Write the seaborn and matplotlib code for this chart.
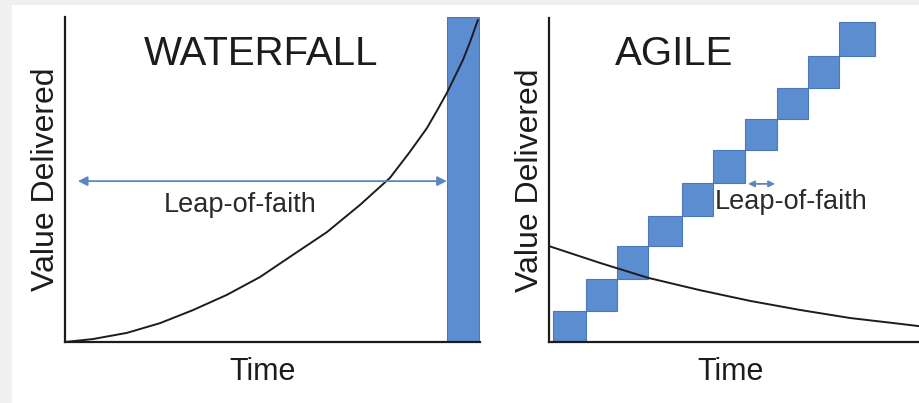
import seaborn as sns
import matplotlib.pyplot as plt
from matplotlib.patches import Rectangle

# waterfall: value delivered over time (arbitrary 0-100 units)
waterfall_time = [0, 6.7, 14.9, 22.9, 30.8, 39.0, 47.0, 54.9, 63.1, 71.1, 78.3, 83.1, 87.2, 89.6, 92.0, 95.9, 97.6, 99.5]
waterfall_value = [0, 0.9, 2.8, 5.8, 9.8, 14.5, 20.0, 26.8, 33.8, 42.2, 50.5, 58.5, 65.8, 71.1, 76.6, 86.8, 92.3, 99.1]
release_start = 92.0
release_end = 99.8
release_value = 100

# agile: decaying risk curve + ten sprint increments
agile_time = [0, 13.8, 26.8, 40.8, 54.3, 67.8, 81.4, 94.9, 100]
agile_value = [29.6, 24.4, 19.8, 16.0, 12.7, 9.9, 7.4, 5.6, 4.9]
sprint_start = [1.1, 10.0, 18.4, 26.8, 35.9, 44.3, 53.0, 61.6, 70.0, 78.4]
sprint_end = [10.0, 18.4, 26.8, 35.9, 44.3, 53.0, 61.6, 70.0, 78.4, 88.1]
sprint_value_before = [0.0, 9.6, 19.4, 29.6, 38.9, 49.1, 59.3, 68.8, 78.4, 88.3]
sprint_value_after = [9.6, 19.4, 29.6, 38.9, 49.1, 59.3, 68.8, 78.4, 88.3, 98.8]

leap_waterfall = (3.1, 92.0, 49.5)
leap_agile = (53.8, 61.1, 48.8)

BLUE = "#5c8dd1"
EDGE = "#4a78b8"
ARROW = "#5a86c2"
INK = "#1c1c1c"

sns.set_theme(style="white")
plt.rcParams["font.family"] = ["Liberation Sans", "DejaVu Sans"]

fig = plt.figure(figsize=(9.19, 4.03), dpi=100)
fig.patch.set_facecolor("#f0f0ef")
fig.patches.append(Rectangle((12 / 919, 0), 1 - 12 / 919, 398 / 403,
                             transform=fig.transFigure, facecolor="white",
                             edgecolor="none", zorder=-5))

ax1 = fig.add_axes([65 / 919, 61 / 403, 415 / 919, 325 / 403])
ax2 = fig.add_axes([549 / 919, 61 / 403, 370 / 919, 324 / 403])

for ax, label_x in ((ax1, 0.475), (ax2, 0.492)):
    ax.set_facecolor("none")
    ax.set_xlim(0, 100)
    ax.set_ylim(0, 100)
    ax.set_xticks([])
    ax.set_yticks([])
    sns.despine(ax=ax)
    for side in ("left", "bottom"):
        ax.spines[side].set_color(INK)
        ax.spines[side].set_linewidth(1.6)
    ax.set_xlabel("Time", fontsize=22, color=INK, labelpad=10.5)
    ax.xaxis.label.set_x(label_x)
    ax.set_ylabel("Value Delivered", fontsize=23, color=INK, labelpad=3)

# --- waterfall
ax1.bar(release_start, release_value, width=release_end - release_start, align="edge",
        color=BLUE, edgecolor=EDGE, linewidth=0.8, zorder=2)
sns.lineplot(x=waterfall_time, y=waterfall_value, ax=ax1, color=INK, linewidth=1.4,
             sort=False, zorder=3)
ax1.annotate("", xy=(leap_waterfall[0], leap_waterfall[2]), xytext=(leap_waterfall[1], leap_waterfall[2]),
             arrowprops=dict(arrowstyle="<|-|>", color=ARROW, lw=1.3, mutation_scale=14,
                             shrinkA=0, shrinkB=0), zorder=3)
ax1.text(42.2, 40.0, "Leap-of-faith", fontsize=19.5, color="#2a2a2a", ha="center", va="baseline")
ax1.text(47.2, 85.2, "WATERFALL", fontsize=29, color=INK, ha="center", va="baseline")

# --- agile
widths = [e - s for s, e in zip(sprint_start, sprint_end)]
heights = [a - b for a, b in zip(sprint_value_after, sprint_value_before)]
ax2.bar(sprint_start, heights, width=widths, bottom=sprint_value_before, align="edge",
        color=BLUE, edgecolor=EDGE, linewidth=0.8, zorder=2)
sns.lineplot(x=agile_time, y=agile_value, ax=ax2, color=INK, linewidth=1.4,
             sort=False, zorder=3)
ax2.annotate("", xy=(leap_agile[0], leap_agile[2]), xytext=(leap_agile[1], leap_agile[2]),
             arrowprops=dict(arrowstyle="<|-|>", color=ARROW, lw=1.3, mutation_scale=9,
                             shrinkA=0, shrinkB=0), zorder=3)
ax2.text(44.9, 41.0, "Leap-of-faith", fontsize=19.5, color="#2a2a2a", ha="left", va="baseline", zorder=4)
ax2.text(33.8, 85.5, "AGILE", fontsize=29, color=INK, ha="center", va="baseline")

for line in ax1.lines + ax2.lines:
    line.set_clip_on(False)

plt.savefig("out.png", dpi=100, facecolor=fig.get_facecolor())
